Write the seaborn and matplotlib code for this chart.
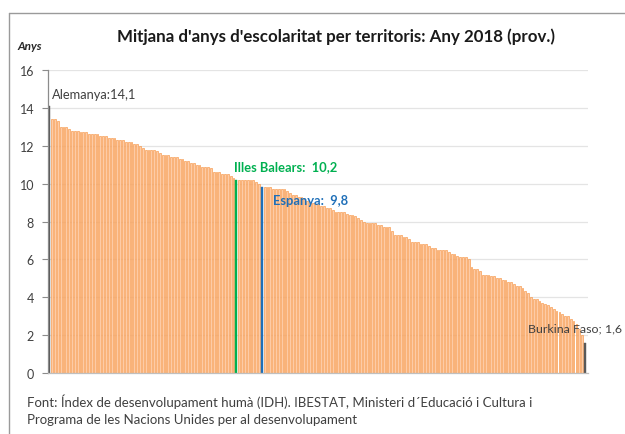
import matplotlib
matplotlib.use("Agg")
import matplotlib.pyplot as plt
import seaborn as sns
import numpy as np
import pandas as pd
from matplotlib.lines import Line2D

# ---------------- data ----------------
values = [
    14.1, 13.4, 13.4, 13.3, 13.0, 13.0, 13.0, 12.9, 12.8, 12.8,
    12.8, 12.7, 12.7, 12.7, 12.6, 12.6, 12.6, 12.6, 12.5, 12.5,
    12.5, 12.4, 12.4, 12.4, 12.3, 12.3, 12.3, 12.2, 12.2, 12.2,
    12.1, 12.1, 12.0, 11.9, 11.8, 11.8, 11.8, 11.8, 11.7, 11.6,
    11.5, 11.5, 11.5, 11.4, 11.4, 11.4, 11.3, 11.3, 11.2, 11.2,
    11.1, 11.1, 11.0, 11.0, 10.9, 10.9, 10.9, 10.8, 10.6, 10.6,
    10.6, 10.5, 10.5, 10.5, 10.4, 10.3, 10.2, 10.2, 10.2, 10.2,
    10.2, 10.2, 10.2, 10.1, 10.0, 9.8, 9.8, 9.8, 9.8, 9.7,
    9.7, 9.7, 9.7, 9.7, 9.6, 9.5, 9.4, 9.4, 9.3, 9.3,
    9.2, 9.1, 9.0, 9.0, 8.9, 8.9, 8.8, 8.8, 8.7, 8.7,
    8.6, 8.5, 8.5, 8.5, 8.5, 8.4, 8.35, 8.35, 8.3, 8.2,
    8.1, 8.0, 7.9, 7.9, 7.9, 7.9, 7.8, 7.8, 7.7, 7.7,
    7.7, 7.5, 7.3, 7.3, 7.3, 7.2, 7.2, 7.1, 6.9, 6.9,
    6.9, 6.8, 6.8, 6.8, 6.7, 6.6, 6.6, 6.5, 6.5, 6.5,
    6.5, 6.4, 6.3, 6.3, 6.2, 6.1, 6.1, 6.1, 6.0, 5.6,
    5.5, 5.5, 5.4, 5.2, 5.2, 5.2, 5.1, 5.1, 5.0, 5.0,
    4.9, 4.9, 4.8, 4.8, 4.7, 4.6, 4.6, 4.5, 4.35, 4.2,
    4.0, 3.9, 3.9, 3.8, 3.7, 3.65, 3.6, 3.5, 3.4, 3.3,
    3.2, 3.1, 3.0, 3.0, 2.85, 2.75, 2.6, 2.3, 2.0, 1.6,
]
highlight_idx = {"Alemanya": 0, "Illes Balears": 66, "Espanya": 75, "Burkina Faso": 189}
highlight_labels = {"Alemanya": "Alemanya:14,1", "Illes Balears": "Illes Balears:  10,2",
                    "Espanya": "Espanya:  9,8", "Burkina Faso": "Burkina Faso; 1,6"}
y_ticks = [0, 2, 4, 6, 8, 10, 12, 14, 16]
title = "Mitjana d'anys d'escolaritat per territoris: Any 2018 (prov.)"
source_lines = ["Font: Índex de desenvolupament humà (IDH). IBESTAT, Ministeri d\u00b4Educació i Cultura i",
                "Programa de les Nacions Unides per al desenvolupament"]

# ---------------- styling ----------------
W, H = 625, 435
ORANGE_FACE = "#FDCBA6"
ORANGE_EDGE = "#F79646"
GRAY = "#595959"
GREEN = "#00B050"
BLUE = "#1F6FB8"
TXT = "#404040"

sns.set_theme(style="white")
plt.rcParams["font.family"] = ["Lato", "DejaVu Sans"]

n = len(values)
special_colors = {0: GRAY, 66: GREEN, 75: BLUE, 189: GRAY}
colors = [special_colors.get(i, ORANGE_FACE) for i in range(n)]
df = pd.DataFrame({"pos": list(range(n)), "val": values})

fig = plt.figure(figsize=(W / 100, H / 100), dpi=100)
ax = fig.add_axes([48 / W, 1 - 374 / H, (588 - 48) / W, (374 - 71) / H])

sns.barplot(data=df, x="pos", y="val", hue="pos", palette=colors, legend=False,
            width=0.62, ax=ax, saturation=1)
for i, p in enumerate(ax.patches):
    if i in special_colors:
        p.set_edgecolor(special_colors[i])
        p.set_linewidth(0.3)
        p.set_width(0.6)
        p.set_x(i - 0.3)
    else:
        p.set_edgecolor(ORANGE_EDGE)
        p.set_linewidth(0.45)

ax.set_xlim(-0.46, 190.1)
ax.set_ylim(0, 16)
ax.set_yticks(y_ticks)
ax.set_yticklabels([str(t) for t in y_ticks], fontsize=9, color=TXT)
ax.set_xticks([])
ax.set_xlabel("")
ax.set_ylabel("")
ax.yaxis.grid(True, color="#E4E4E4", linewidth=0.9)
ax.set_axisbelow(True)
for s in ["top", "right"]:
    ax.spines[s].set_visible(False)
ax.spines["left"].set_color("#8C8C8C")
ax.spines["bottom"].set_color("#BFBFBF")
ax.spines["left"].set_linewidth(0.9)
ax.spines["bottom"].set_linewidth(0.9)
ax.tick_params(axis="y", direction="out", length=4, width=0.8, color="#8C8C8C", pad=6, left=True)

# annotations
ax.text(highlight_idx["Alemanya"] + 0.8, 14.75, highlight_labels["Alemanya"], fontsize=9.3,
        color=TXT, va="center", ha="left")
ax.text(highlight_idx["Illes Balears"] - 0.7, 10.95, highlight_labels["Illes Balears"], fontsize=9.3,
        color=GREEN, fontweight="bold", va="center", ha="left")
ax.text(highlight_idx["Espanya"] + 3.8, 9.15, highlight_labels["Espanya"], fontsize=9.3,
        color=BLUE, fontweight="bold", va="center", ha="left")
ax.text(highlight_idx["Burkina Faso"] - 20.2, 2.4, highlight_labels["Burkina Faso"], fontsize=8.9,
        color=TXT, va="center", ha="left", clip_on=False)

# texts in figure pixel coordinates
def ft(x, y, s, **kw):
    fig.text(x / W, 1 - y / H, s, **kw)

ft(336, 37, title, fontsize=12.2, fontweight="bold", color="#1A1A1A", ha="center", va="center")
ft(17, 47, "Anys", fontsize=8.5, fontstyle="italic", fontweight="bold", color="#262626", ha="left", va="center")
ft(27, 402, source_lines[0], fontsize=9.5, color=TXT, ha="left", va="center")
ft(27, 420, source_lines[1], fontsize=9.5, color=TXT, ha="left", va="center")

# outer chart border (left and top)
fig.add_artist(Line2D([9 / W, 9 / W], [0, 1 - 14 / H], color="#9A9A9A", linewidth=1.0))
fig.add_artist(Line2D([9 / W, 1], [1 - 14 / H, 1 - 14 / H], color="#9A9A9A", linewidth=1.0))

fig.savefig("out.png", dpi=100)
